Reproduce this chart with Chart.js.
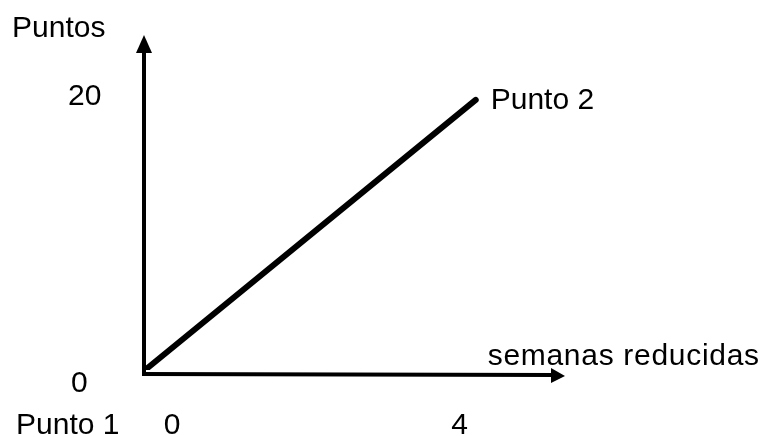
<!DOCTYPE html>
<html>
<head>
<meta charset="utf-8">
<script src="https://cdn.jsdelivr.net/npm/chart.js@4"></script>
<style>
  html, body { margin: 0; padding: 0; background: #fff; }
  #wrap { width: 765px; height: 437px; position: relative; }
</style>
</head>
<body>
<div id="wrap"><canvas id="grafico"></canvas></div>
<script>
// semanas reducidas vs puntos
const semanas = [0, 4];
const puntos = [0, 20];
const ticksX = [0, 4];
const ticksY = [0, 20];
const etiquetasPuntos = ['Punto 1', 'Punto 2'];

const FONT = '30px "Liberation Sans", Arial, sans-serif';

// ejes con flecha, marcas y textos
const ejes = {
  id: 'ejes',
  beforeDatasetsDraw(chart) {
    const { ctx, scales: { x, y } } = chart;
    const x0 = x.getPixelForValue(0) - 1;
    const y0 = y.getPixelForValue(0) + 4;
    ctx.save();
    ctx.fillStyle = '#000';
    ctx.strokeStyle = '#000';
    ctx.lineWidth = 4;
    // eje vertical
    ctx.beginPath();
    ctx.moveTo(x0, y0 + 2);
    ctx.lineTo(x0, y.top + 16);
    ctx.stroke();
    ctx.beginPath();
    ctx.moveTo(x0, y.top);
    ctx.lineTo(x0 - 8, y.top + 18);
    ctx.lineTo(x0 + 8, y.top + 18);
    ctx.closePath();
    ctx.fill();
    // eje horizontal
    ctx.beginPath();
    ctx.moveTo(x0 - 2, y0);
    ctx.lineTo(x.right - 12, y0 + 1);
    ctx.stroke();
    ctx.beginPath();
    ctx.moveTo(x.right, y0 + 2);
    ctx.lineTo(x.right - 14, y0 - 6);
    ctx.lineTo(x.right - 14, y0 + 9);
    ctx.closePath();
    ctx.fill();
    ctx.restore();
  },
  afterDraw(chart) {
    const { ctx, scales: { x, y } } = chart;
    ctx.save();
    ctx.fillStyle = '#000';
    ctx.font = FONT;
    ctx.textBaseline = 'alphabetic';
    // titulos de los ejes
    ctx.textAlign = 'left';
    ctx.fillText('Puntos', 12, 37);
    ctx.letterSpacing = '0.7px';
    ctx.fillText('semanas reducidas', x.getPixelForValue(4) + 12, y.getPixelForValue(0) - 5);
    ctx.letterSpacing = '0px';
    // marcas eje y
    ctx.textAlign = 'left';
    ticksY.forEach(v => {
      ctx.fillText(String(v), v === 0 ? 71 : 68, y.getPixelForValue(v) + (v === 0 ? 22 : 5));
    });
    // marcas eje x
    ctx.textAlign = 'center';
    ticksX.forEach(v => {
      ctx.fillText(String(v), x.getPixelForValue(v) + (v === 0 ? 27 : -16), 434);
    });
    // nombres de los puntos
    ctx.textAlign = 'left';
    ctx.fillText(etiquetasPuntos[0], 16, 434);
    ctx.fillText(etiquetasPuntos[1], x.getPixelForValue(semanas[1]) + 15, y.getPixelForValue(puntos[1]) + 9);
    ctx.restore();
  }
};

new Chart(document.getElementById('grafico'), {
  type: 'line',
  data: {
    datasets: [{
      data: semanas.map((s, i) => ({ x: s, y: puntos[i] })),
      borderColor: '#000',
      borderWidth: 6,
      pointRadius: 0,
      borderCapStyle: 'round'
    }]
  },
  options: {
    responsive: true,
    maintainAspectRatio: false,
    animation: false,
    layout: { padding: { left: 145, right: 200, top: 35, bottom: 67 } },
    plugins: { legend: { display: false }, tooltip: { enabled: false } },
    scales: {
      x: { type: 'linear', min: 0, max: 5.08, display: false },
      y: { min: 0, max: 24.8, display: false }
    }
  },
  plugins: [ejes]
});
</script>
</body>
</html>
